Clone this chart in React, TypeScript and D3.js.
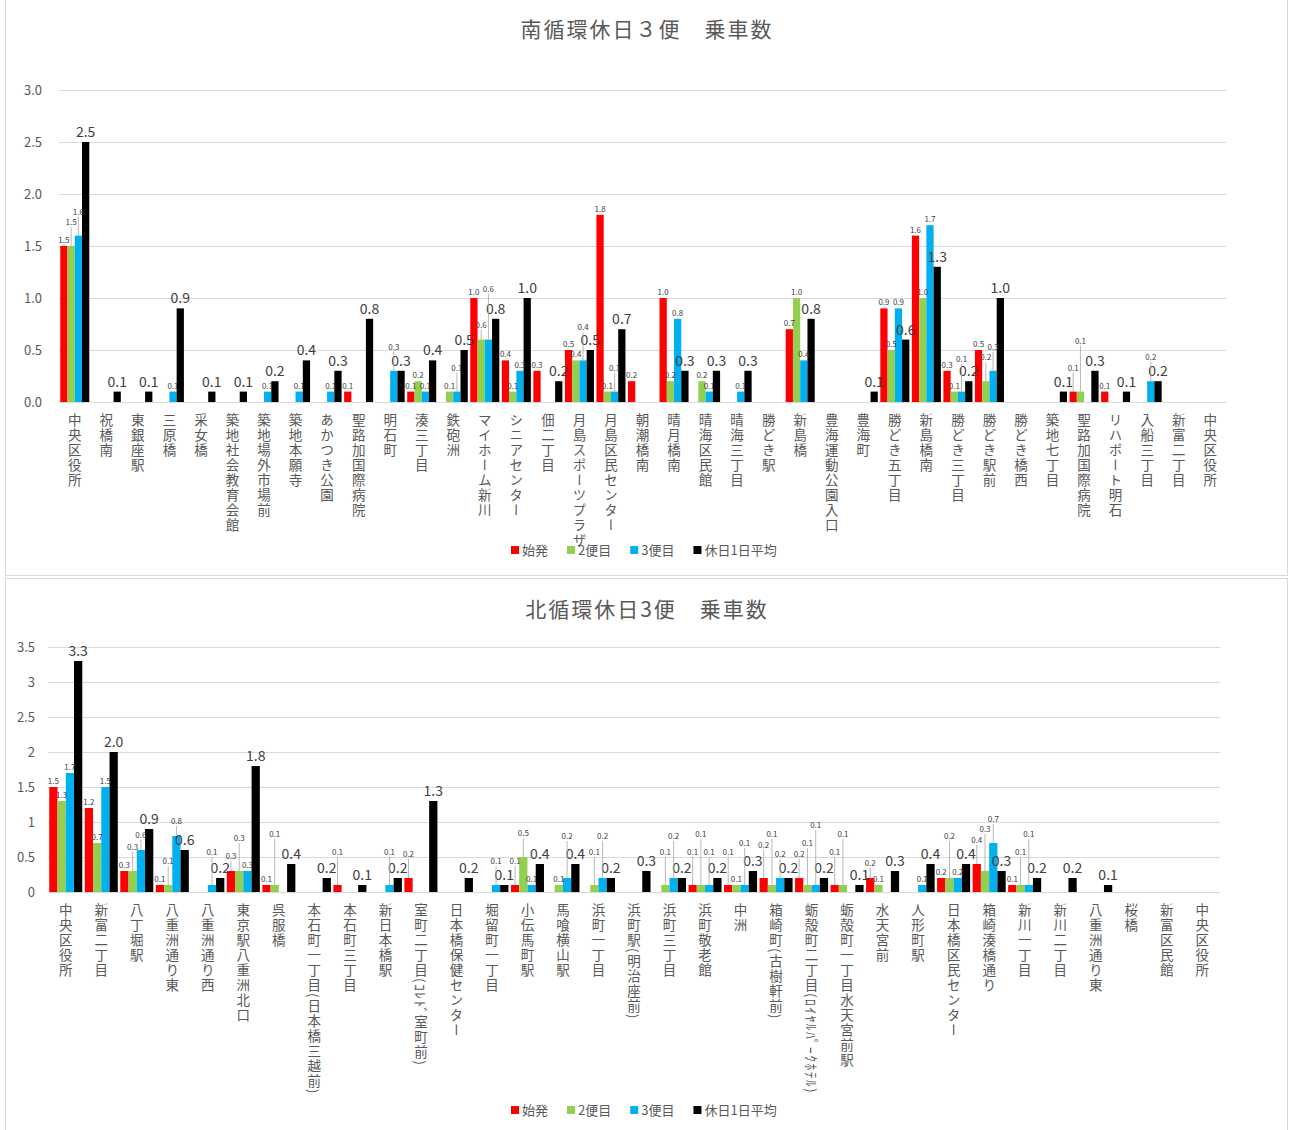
import React, { useRef, useEffect } from 'react';
import * as d3 from 'd3';

const seriesNames = ['始発', '2便目', '3便目', '休日1日平均'];
const seriesColors = ['#ff0000', '#92d050', '#00b0f0', '#000000'];

// 南循環
const southStops = [
  '中央区役所', '祝橋南', '東銀座駅', '三原橋', '采女橋', '築地社会教育会館', '築地場外市場前',
  '築地本願寺', 'あかつき公園', '聖路加国際病院', '明石町', '湊三丁目', '鉄砲洲', 'マイホーム新川',
  'シニアセンター', '佃二丁目', '月島スポーツプラザ', '月島区民センター', '朝潮橋南', '晴月橋南',
  '晴海区民館', '晴海三丁目', '勝どき駅', '新島橋', '豊海運動公園入口', '豊海町', '勝どき五丁目',
  '新島橋南', '勝どき三丁目', '勝どき駅前', '勝どき橋西', '築地七丁目', '聖路加国際病院',
  'リハポート明石', '入船三丁目', '新富二丁目', '中央区役所',
];
const southFirst = [1.5, 0, 0, 0, 0, 0, 0, 0, 0, 0.1, 0, 0.1, 0, 1.0, 0.4, 0.3, 0.5, 1.8, 0.2, 1.0, 0, 0, 0, 0.7, 0, 0, 0.9, 1.6, 0.3, 0.5, 0, 0, 0.1, 0.1, 0, 0, 0];
const southSecond = [1.5, 0, 0, 0, 0, 0, 0, 0, 0, 0, 0, 0.2, 0.1, 0.6, 0.1, 0, 0.4, 0.1, 0, 0.2, 0.2, 0, 0, 1.0, 0, 0, 0.5, 1.0, 0.1, 0.2, 0, 0, 0.1, 0, 0, 0, 0];
const southThird = [1.6, 0, 0, 0.1, 0, 0, 0.1, 0.1, 0.1, 0, 0.3, 0.1, 0.1, 0.6, 0.3, 0, 0.4, 0.1, 0, 0.8, 0.1, 0.1, 0, 0.4, 0, 0, 0.9, 1.7, 0.1, 0.3, 0, 0, 0, 0, 0.2, 0, 0];
const southAvg = [2.5, 0.1, 0.1, 0.9, 0.1, 0.1, 0.2, 0.4, 0.3, 0.8, 0.3, 0.4, 0.5, 0.8, 1.0, 0.2, 0.5, 0.7, 0, 0.3, 0.3, 0.3, 0, 0.8, 0, 0.1, 0.6, 1.3, 0.2, 1.0, 0, 0.1, 0.3, 0.1, 0.2, 0, 0];

// 北循環
const northStops = [
  '中央区役所', '新富二丁目', '八丁堀駅', '八重洲通り東', '八重洲通り西', '東京駅八重洲北口', '呉服橋',
  '本石町一丁目(日本橋三越前)', '本石町三丁目', '新日本橋駅', '室町二丁目(ｺﾚﾄﾞ室町前)', '日本橋保健センター',
  '堀留町一丁目', '小伝馬町駅', '馬喰横山駅', '浜町一丁目', '浜町駅(明治座前)', '浜町三丁目', '浜町敬老館',
  '中洲', '箱崎町(古樹軒前)', '蛎殻町二丁目(ﾛｲﾔﾙﾊﾟｰｸﾎﾃﾙ)', '蛎殻町一丁目水天宮前駅', '水天宮前', '人形町駅',
  '日本橋区民センター', '箱崎湊橋通り', '新川一丁目', '新川二丁目', '八重洲通り東', '桜橋', '新富区民館', '中央区役所',
];
const northFirst = [1.5, 1.2, 0.3, 0.1, 0, 0.3, 0.1, 0, 0.1, 0, 0.2, 0, 0, 0.1, 0, 0, 0, 0, 0.1, 0.1, 0.2, 0.2, 0.1, 0.2, 0, 0.2, 0.4, 0.1, 0, 0, 0, 0, 0];
const northSecond = [1.3, 0.7, 0.3, 0.1, 0, 0.3, 0.1, 0, 0, 0, 0, 0, 0, 0.5, 0.1, 0.1, 0, 0.1, 0.1, 0.1, 0.1, 0.1, 0.1, 0.1, 0, 0.2, 0.3, 0.1, 0, 0, 0, 0, 0];
const northThird = [1.7, 1.5, 0.6, 0.8, 0.1, 0.3, 0, 0, 0, 0.1, 0, 0, 0.1, 0.1, 0.2, 0.2, 0, 0.2, 0.1, 0.1, 0.2, 0.1, 0, 0, 0.1, 0.2, 0.7, 0.1, 0, 0, 0, 0, 0];
const northAvg = [3.3, 2.0, 0.9, 0.6, 0.2, 1.8, 0.4, 0.2, 0.1, 0.2, 1.3, 0.2, 0.1, 0.4, 0.4, 0.2, 0.3, 0.2, 0.2, 0.3, 0.2, 0.2, 0.1, 0.3, 0.4, 0.4, 0.3, 0.2, 0.2, 0.1, 0, 0, 0];

const FONT = "'Noto Sans CJK JP', 'Noto Sans', sans-serif";
const GRAY = '#595959';

type ChartCfg = {
  panelY: number;
  panelH: number;
  title: string;
  titleY: number;
  stops: string[];
  series: number[][];
  yMax: number;
  yFmt: (d: number) => string;
  yTop: number;
  yBottom: number;
  xLeft: number;
  xRight: number;
  labelEnd: number;
  catY: number;
  legendY: number;
  pad: number;
};

type Box = { x: number; y: number; w: number; h: number };

const overlaps = (a: Box, b: Box): boolean =>
  a.x < b.x + b.w + 1 && b.x < a.x + a.w + 1 && a.y < b.y + b.h + 1 && b.y < a.y + a.h + 1;

const drawChart = (svg: d3.Selection<SVGSVGElement, unknown, null, undefined>, cfg: ChartCfg): void => {
  const g = svg.append('g');

  g.append('rect')
    .attr('x', 5.5)
    .attr('y', cfg.panelY + 0.5)
    .attr('width', 1282)
    .attr('height', cfg.panelH)
    .attr('fill', '#fff')
    .attr('stroke', '#d9d9d9');

  g.append('text')
    .attr('x', 647)
    .attr('y', cfg.titleY)
    .attr('text-anchor', 'middle')
    .attr('font-family', FONT)
    .attr('font-size', 21)
    .attr('letter-spacing', 2)
    .attr('fill', GRAY)
    .text(cfg.title);

  const y = d3.scaleLinear().domain([0, cfg.yMax]).range([cfg.yBottom, cfg.yTop]);
  const x0 = d3
    .scaleBand<number>()
    .domain(d3.range(cfg.stops.length))
    .range([cfg.xLeft, cfg.xRight])
    .paddingInner(cfg.pad)
    .paddingOuter(cfg.pad / 2);
  const x1 = d3.scaleBand<number>().domain(d3.range(4)).range([0, x0.bandwidth()]);

  // y axis + gridlines
  const ticks = d3.range(0, cfg.yMax + 0.001, 0.5);
  const axis = g
    .append('g')
    .attr('transform', `translate(${cfg.xLeft},0)`)
    .call(
      d3
        .axisLeft(y)
        .tickValues(ticks)
        .tickSize(-(cfg.xRight - cfg.xLeft))
        .tickPadding(cfg.xLeft - cfg.labelEnd)
        .tickFormat((d) => cfg.yFmt(d as number))
    );
  axis.select('.domain').remove();
  axis.selectAll('line').attr('stroke', '#d9d9d9');
  axis
    .selectAll('text')
    .attr('font-family', FONT)
    .attr('font-size', 13)
    .attr('fill', GRAY);

  // bars
  cfg.series.forEach((vals, s) => {
    g.append('g')
      .selectAll('rect')
      .data(vals.map((v, i) => ({ v, i })).filter((d) => d.v > 0))
      .enter()
      .append('rect')
      .attr('x', (d) => (x0(d.i) || 0) + (x1(s) || 0))
      .attr('y', (d) => y(d.v))
      .attr('width', x1.bandwidth())
      .attr('height', (d) => cfg.yBottom - y(d.v))
      .attr('fill', seriesColors[s]);
  });

  // data labels, nudged upward with a leader line when they collide
  const placed: Box[] = [];
  const labelLayer = g.append('g');
  const boxAt = (cx: number, base: number, big: boolean): Box =>
    big
      ? { x: cx - 10.5, y: base - 11, w: 21, h: 14 }
      : { x: cx - 6, y: base - 7, w: 12, h: 9 };
  cfg.stops.forEach((_, i) => {
    [3, 0, 1, 2].forEach((s) => {
      const v = cfg.series[s][i];
      if (!(v > 0)) return;
      const big = s === 3;
      const cx = (x0(i) || 0) + (x1(s) || 0) + x1.bandwidth() / 2;
      const top = y(v);
      let base = top - (big ? 5 : 3);
      let box = boxAt(cx, base, big);
      let tries = 0;
      while (placed.some((p) => overlaps(p, box)) && tries < 8) {
        base -= big ? 6 : 9;
        box = boxAt(cx, base, big);
        tries++;
      }
      placed.push(box);
      if (tries > 0 && !big) {
        labelLayer
          .append('line')
          .attr('x1', cx)
          .attr('x2', cx)
          .attr('y1', top)
          .attr('y2', base + 2)
          .attr('stroke', '#a6a6a6')
          .attr('stroke-width', 0.8);
      }
      labelLayer
        .append('text')
        .attr('x', cx)
        .attr('y', base)
        .attr('text-anchor', 'middle')
        .attr('font-family', FONT)
        .attr('font-size', big ? 14 : 8)
        .attr('fill', '#404040')
        .text(d3.format('.1f')(v));
    });
  });

  // category labels (vertical)
  g.append('g')
    .selectAll('text')
    .data(cfg.stops)
    .enter()
    .append('text')
    .attr('x', (_, i) => (x0(i) || 0) + x0.bandwidth() / 2)
    .attr('y', cfg.catY)
    .style('writing-mode', 'vertical-rl')
    .attr('font-family', FONT)
    .attr('font-size', 13.5)
    .attr('letter-spacing', 1.5)
    .attr('fill', GRAY)
    .text((d) => d);

  // legend
  const legend = g.append('g').attr('transform', `translate(511,${cfg.legendY})`);
  let lx = 0;
  seriesNames.forEach((name, s) => {
    legend
      .append('rect')
      .attr('x', lx)
      .attr('y', -9)
      .attr('width', 8)
      .attr('height', 8)
      .attr('fill', seriesColors[s]);
    const t = legend
      .append('text')
      .attr('x', lx + 11)
      .attr('y', 0)
      .attr('font-family', FONT)
      .attr('font-size', 13)
      .attr('fill', GRAY)
      .text(name);
    const w = (t.node() as SVGTextElement).getComputedTextLength();
    lx += 11 + w + 19;
  });
};

export default function App() {
  const ref = useRef<SVGSVGElement>(null);

  useEffect(() => {
    const svg = d3.select(ref.current as SVGSVGElement);
    svg.selectAll('*').remove();

    drawChart(svg, {
      panelY: -1,
      panelH: 576,
      title: '南循環休日３便　乗車数',
      titleY: 37,
      stops: southStops,
      series: [southFirst, southSecond, southThird, southAvg],
      yMax: 3,
      yFmt: d3.format('.1f'),
      yTop: 90,
      yBottom: 402,
      xLeft: 59,
      xRight: 1226,
      labelEnd: 42,
      catY: 413,
      legendY: 555,
      pad: 0.08,
    });

    drawChart(svg, {
      panelY: 578,
      panelH: 560,
      title: '北循環休日3便　乗車数',
      titleY: 617,
      stops: northStops,
      series: [northFirst, northSecond, northThird, northAvg],
      yMax: 3.5,
      yFmt: (d) => String(d),
      yTop: 647,
      yBottom: 892,
      xLeft: 48,
      xRight: 1220,
      labelEnd: 35,
      catY: 903,
      legendY: 1115,
      pad: 0.07,
    });
  }, []);

  return (
    <div style={{ position: 'absolute', left: 0, top: 0 }}>
      <svg ref={ref} width={1293} height={1130} style={{ display: 'block', background: '#fff' }} />
    </div>
  );
}
